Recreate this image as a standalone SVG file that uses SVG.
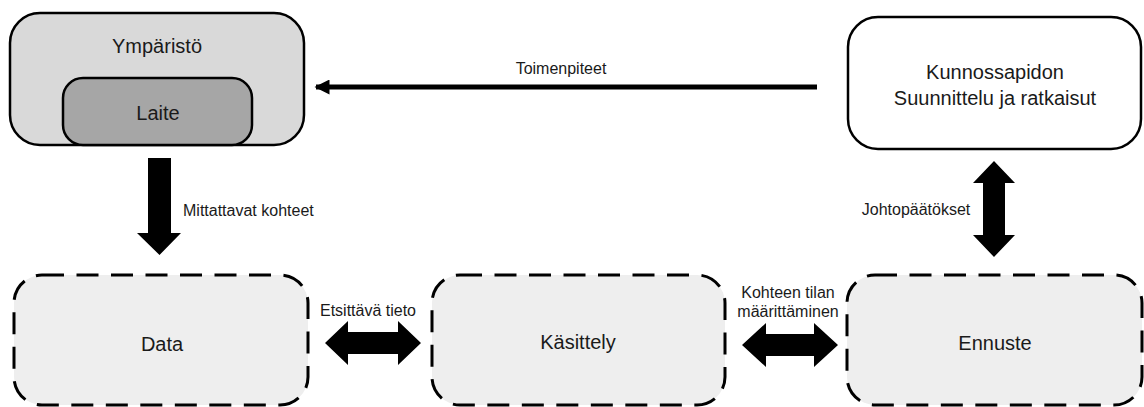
<svg xmlns="http://www.w3.org/2000/svg" width="1144" height="407" viewBox="0 0 1144 407">
  <style>
    text { font-family: "Liberation Sans", Arial, sans-serif; fill: #1a1a1a; }
    .node { font-size: 20px; text-anchor: middle; }
    .lbl { font-size: 16px; }
    .mid { text-anchor: middle; }
    .solid { stroke: #000; stroke-width: 2.5; }
    .dash { fill: #eeeeee; stroke: #000; stroke-width: 3; stroke-dasharray: 22 12.5; }
    .blk { fill: #000; }
  </style>
  <defs>
    <marker id="ah" viewBox="0 0 10 10" refX="9" refY="5" markerWidth="3.4" markerHeight="3" orient="auto" markerUnits="strokeWidth">
      <path d="M0,0 L10,5 L0,10 Z" fill="#000"/>
    </marker>
  </defs>
  <rect width="1144" height="407" fill="#ffffff"/>

  <g id="ymparisto">
    <rect x="10" y="13" width="294" height="132" rx="30" ry="30" fill="#d9d9d9" class="solid"/>
    <text class="node" x="157" y="53">Ympäristö</text>
  </g>
  <g id="laite">
    <rect x="63" y="78" width="189" height="67" rx="20" ry="20" fill="#a6a6a6" class="solid"/>
    <text class="node" x="158" y="120">Laite</text>
  </g>
  <g id="kunnossapito">
    <rect x="848" y="17" width="293" height="132" rx="30" ry="30" fill="#ffffff" class="solid"/>
    <text class="node" x="995" y="79">Kunnossapidon</text>
    <text class="node" x="995" y="105">Suunnittelu ja ratkaisut</text>
  </g>
  <g id="data">
    <rect x="14" y="275" width="294" height="130" rx="28" ry="28" class="dash"/>
    <text class="node" x="162" y="351">Data</text>
  </g>
  <g id="kasittely">
    <rect x="432" y="275" width="293" height="130" rx="28" ry="28" class="dash"/>
    <text class="node" x="578" y="349">Käsittely</text>
  </g>
  <g id="ennuste">
    <rect x="847" y="275" width="295" height="130" rx="28" ry="28" class="dash"/>
    <text class="node" x="995" y="350">Ennuste</text>
  </g>

  <g id="connectors">
    <line x1="817" y1="87" x2="316" y2="87" stroke="#000" stroke-width="5" marker-end="url(#ah)"/>
    <text class="lbl mid" x="561" y="74">Toimenpiteet</text>

    <polygon class="blk" points="148,158 171,158 171,233 181,233 159.5,255 137,233 148,233"/>
    <text class="lbl" x="183" y="216">Mittattavat kohteet</text>

    <polygon class="blk" points="325,343 348,321 348,332 398,332 398,321 421,343 398,365 398,354 348,354 348,365"/>
    <text class="lbl mid" x="368" y="316">Etsittävä tieto</text>

    <polygon class="blk" points="742,345 766,323 766,334 814,334 814,323 838,345 814,367 814,356 766,356 766,367"/>
    <text class="lbl mid" x="788" y="298">Kohteen tilan</text>
    <text class="lbl mid" x="788" y="317">määrittäminen</text>

    <polygon class="blk" points="994,161 1015,183 1005,183 1005,235 1015,235 994,257 973,235 983,235 983,183 973,183"/>
    <text class="lbl mid" x="916" y="215">Johtopäätökset</text>
  </g>
</svg>
